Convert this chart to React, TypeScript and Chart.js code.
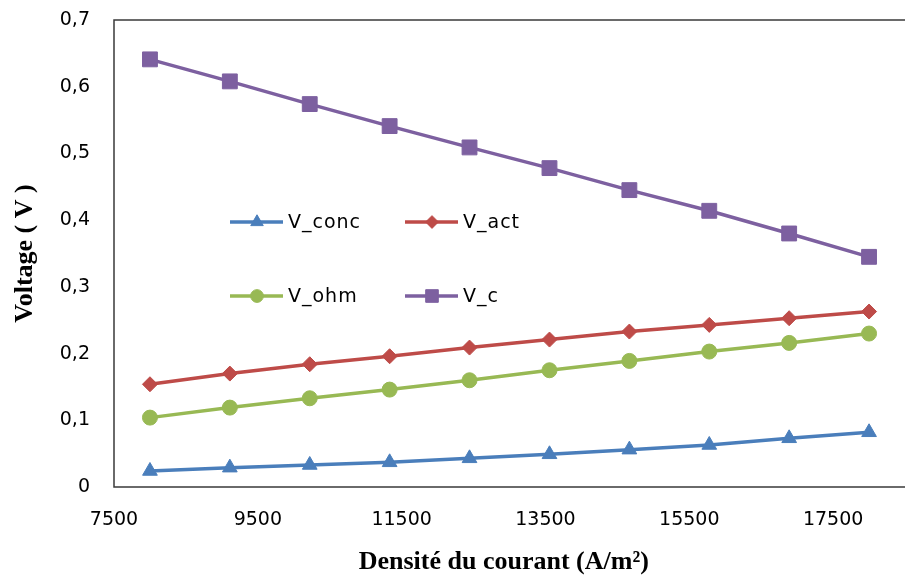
import React, { useEffect, useRef } from "react";
import { Chart, registerables } from "chart.js";
import { drawPoint } from "chart.js/helpers";

Chart.register(...registerables);

const xValues = [8000, 9111, 10222, 11333, 12444, 13556, 14667, 15778, 16889, 18000];
const vConc = [0.024, 0.029, 0.033, 0.037, 0.043, 0.049, 0.056, 0.063, 0.073, 0.082];
const vAct = [0.154, 0.170, 0.184, 0.196, 0.209, 0.221, 0.233, 0.243, 0.253, 0.263];
const vOhm = [0.104, 0.119, 0.133, 0.146, 0.160, 0.175, 0.189, 0.203, 0.216, 0.230];
const vC = [0.641, 0.608, 0.574, 0.541, 0.509, 0.478, 0.445, 0.414, 0.380, 0.345];
const seriesNames = ["V_conc", "V_act", "V_ohm", "V_c"];
const xTicks = [7500, 9500, 11500, 13500, 15500, 17500];
const yTicks = [0, 0.1, 0.2, 0.3, 0.4, 0.5, 0.6, 0.7];
const xMin = 7500;
const xMax = 18340;
const xTitle = "Densité du courant (A/m²)";
const yTitle = "Voltage ( V )";

const COLORS = ["#4A7EBB", "#BE4B48", "#98B954", "#7D60A0"];
const STYLES = ["triangle", "rectRot", "circle", "rect"];
const RADII = [8.5, 7.5, 7.5, 10.5];

const legendPos = [
  { x: 230, y: 222 },
  { x: 405, y: 222 },
  { x: 230, y: 296 },
  { x: 405, y: 296 },
];

const boxAndLegend = {
  id: "boxAndLegend",
  afterDraw(chart: any) {
    const ctx = chart.ctx;
    const a = chart.chartArea;
    ctx.save();
    ctx.strokeStyle = "#3a3a3a";
    ctx.lineWidth = 1.5;
    ctx.beginPath();
    ctx.moveTo(chart.width, a.top);
    ctx.lineTo(a.left, a.top);
    ctx.lineTo(a.left, a.bottom);
    ctx.lineTo(chart.width, a.bottom);
    ctx.stroke();

    chart.data.datasets.forEach((ds: any, i: number) => {
      const p = legendPos[i];
      ctx.strokeStyle = ds.borderColor;
      ctx.fillStyle = ds.backgroundColor;
      ctx.lineWidth = 3.5;
      ctx.beginPath();
      ctx.moveTo(p.x, p.y);
      ctx.lineTo(p.x + 53, p.y);
      ctx.stroke();
      ctx.lineWidth = 1;
      drawPoint(
        ctx,
        { pointStyle: ds.pointStyle, radius: ds.pointRadius * 0.85, rotation: 0, borderWidth: 1 },
        p.x + 27,
        p.y
      );
      ctx.fillStyle = "#000";
      ctx.font = "19px 'DejaVu Sans'";
      (ctx as any).letterSpacing = "1px";
      ctx.textBaseline = "middle";
      ctx.textAlign = "left";
      ctx.fillText(ds.label, p.x + 58, p.y + 1);
      (ctx as any).letterSpacing = "0px";
    });
    ctx.restore();
  },
};

export default function App() {
  const ref = useRef<HTMLCanvasElement | null>(null);
  useEffect(() => {
    if (!ref.current) return;
    const seriesData = [vConc, vAct, vOhm, vC];
    const chart = new Chart(ref.current, {
      type: "line",
      data: {
        datasets: seriesData.map((vals, i) => ({
          label: seriesNames[i],
          data: xValues.map((x, j) => ({ x, y: vals[j] })),
          borderColor: COLORS[i],
          backgroundColor: COLORS[i],
          pointBackgroundColor: COLORS[i],
          pointBorderColor: COLORS[i],
          pointStyle: STYLES[i] as any,
          pointRadius: RADII[i],
          pointBorderWidth: 1,
          borderWidth: 3.5,
          tension: 0,
        })),
      },
      options: {
        animation: false,
        responsive: true,
        maintainAspectRatio: false,
        layout: { padding: { top: 20, left: 0, right: 0, bottom: 0 } },
        plugins: {
          legend: { display: false },
          tooltip: { enabled: false },
        },
        scales: {
          x: {
            type: "linear",
            min: xMin,
            max: xMax,
            grid: { display: false, drawTicks: false },
            border: { display: false },
            afterBuildTicks: (scale: any) => {
              scale.ticks = xTicks.map((v) => ({ value: v }));
            },
            afterFit: (scale: any) => {
              scale.height = 89;
            },
            ticks: {
              padding: 22,
              color: "#000",
              font: { family: "'DejaVu Sans'", size: 19 },
              maxRotation: 0,
              autoSkip: false,
              callback: (v: any) => String(v),
            },
            title: {
              display: true,
              text: xTitle,
              color: "#000",
              font: { family: "'Liberation Serif'", size: 26, weight: "bold", lineHeight: 1 },
              padding: { top: 0, bottom: 1 },
            },
          },
          y: {
            type: "linear",
            min: 0,
            max: 0.7,
            grid: {
              display: true,
              drawOnChartArea: false,
              drawTicks: true,
              tickLength: 20,
              color: "rgba(0,0,0,0)",
            },
            border: { display: false },
            afterBuildTicks: (scale: any) => {
              scale.ticks = yTicks.map((v) => ({ value: v }));
            },
            afterFit: (scale: any) => {
              scale.width = 114;
            },
            ticks: {
              padding: 4,
              color: "#000",
              font: { family: "'DejaVu Sans'", size: 19 },
              callback: (v: any) => (v === 0 ? "0" : Number(v).toFixed(1).replace(".", ",")),
            },
            title: {
              display: true,
              text: yTitle,
              color: "#000",
              font: { family: "'Liberation Serif'", size: 26, weight: "bold", lineHeight: 1 },
              padding: { top: 12, bottom: 0 },
            },
          },
        },
      },
      plugins: [boxAndLegend],
    });
    return () => chart.destroy();
  }, []);

  return (
    <div style={{ position: "absolute", left: 0, top: 0, width: 905, height: 576, background: "#fff" }}>
      <canvas ref={ref} />
    </div>
  );
}
